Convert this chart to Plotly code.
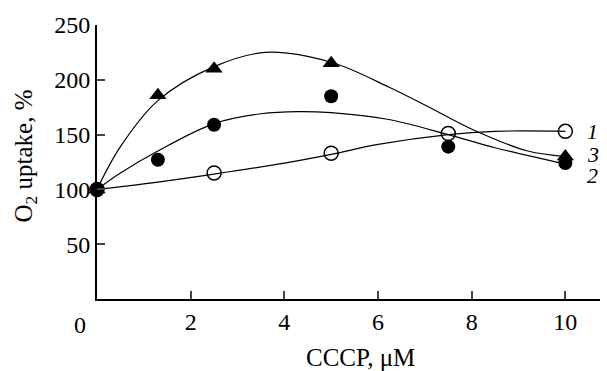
import plotly.graph_objects as go

# Measured points
x1 = [0, 2.5, 5, 7.5, 10]
y1 = [100, 115, 133, 151, 153]
x2 = [0, 1.3, 2.5, 5, 7.5, 10]
y2 = [100, 127, 159, 185, 139, 124]
x3 = [0, 1.3, 2.5, 5, 10]
y3 = [100, 186, 210, 215, 130]

# Fitted curves
cx1 = [0, 1, 2.5, 4, 5, 6, 7.5, 8.5, 10]
cy1 = [100, 105, 114, 124, 132, 141, 150, 153, 153]
cx2 = [0, 0.5, 1.3, 2.5, 3.5, 4.3, 5, 6.2, 7.5, 8.5, 10]
cy2 = [100, 115, 135, 160, 169, 171, 170, 164, 150, 138, 123]
cx3 = [0, 0.5, 1.3, 2.5, 3.6, 5, 6.25, 7, 8.1, 9.2, 10]
cy3 = [100, 139, 181, 212, 225, 216, 193, 177, 153, 135, 130]

x_ticks = [2, 4, 6, 8, 10]
y_ticks = [50, 100, 150, 200, 250]
curve_labels = ["1", "2", "3"]
label_y = [153, 113, 132]

FONT = "Liberation Serif, Times New Roman, serif"
FS = 24
FT = 25
FL = 22
fig = go.Figure()
line = dict(color="black", width=1.2, shape="spline", smoothing=1)
for cx, cy in [(cx1, cy1), (cx2, cy2), (cx3, cy3)]:
    fig.add_trace(go.Scatter(x=cx, y=cy, mode="lines", line=line,
                             hoverinfo="skip", showlegend=False))

fig.add_trace(go.Scatter(x=x3, y=y3, mode="markers", cliponaxis=False,
                         marker=dict(symbol="triangle-up", size=15, color="black"),
                         showlegend=False))
fig.add_trace(go.Scatter(x=x2, y=y2, mode="markers", cliponaxis=False,
                         marker=dict(symbol="circle", size=14, color="black"),
                         showlegend=False))
fig.add_trace(go.Scatter(x=x1, y=y1, mode="markers", cliponaxis=False,
                         marker=dict(symbol="circle-open", size=14, color="black",
                                     line=dict(width=1.5)),
                         showlegend=False))

for lab, ly in zip(curve_labels, label_y):
    fig.add_annotation(x=10.59, y=ly, xref="x", yref="y", text="<i>" + lab + "</i>",
                       showarrow=False, xanchor="center", yanchor="middle",
                       font=dict(family=FONT, size=FL, color="black"))
# origin label
fig.add_annotation(x=-0.034, y=-0.095, xref="paper", yref="paper", text="0",
                   showarrow=False, xanchor="center", yanchor="middle",
                   font=dict(family=FONT, size=FS, color="black"))
# axis titles
fig.add_annotation(x=0.523, y=-0.215, xref="paper", yref="paper", text="CCCP, μM",
                   showarrow=False, xanchor="center", yanchor="middle",
                   font=dict(family=FONT, size=FT, color="black"))
fig.add_annotation(x=-0.142, y=0.522, xref="paper", yref="paper",
                   text="O<sub>2</sub> uptake, %", textangle=-90,
                   showarrow=False, xanchor="center", yanchor="middle",
                   font=dict(family=FONT, size=FT, color="black"))

fig.update_layout(
    width=607, height=371,
    margin=dict(l=97, r=7, t=25, b=72),
    paper_bgcolor="white", plot_bgcolor="white",
    font=dict(family=FONT, size=FS, color="black"),
    xaxis=dict(range=[0, 10.74], tickvals=x_ticks, ticks="inside", ticklen=8,
               tickwidth=2, showline=True, linewidth=2, linecolor="black",
               showgrid=False, zeroline=False, automargin=False),
    yaxis=dict(range=[0, 250], tickvals=y_ticks, ticks="inside", ticklen=8,
               tickwidth=2, showline=True, linewidth=2, linecolor="black",
               showgrid=False, zeroline=False, automargin=False),
)

fig.write_html("out.html", config={"displayModeBar": False},
               post_script="document.body.style.margin='0';")
